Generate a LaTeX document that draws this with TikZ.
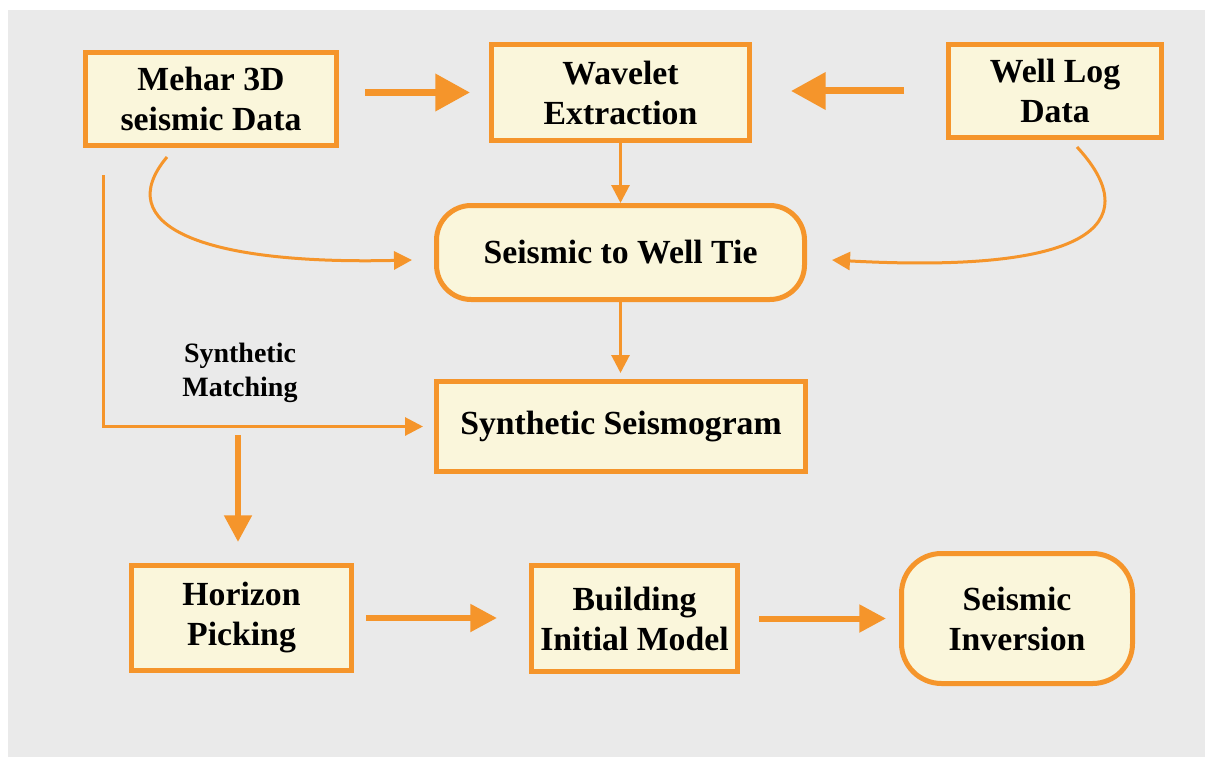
\documentclass[tikz,border=0pt]{standalone}
\usepackage{fontspec}
\setmainfont{Liberation Serif}
\usetikzlibrary{arrows.meta,calc}
\definecolor{org}{HTML}{F5952B}
\definecolor{cream}{HTML}{FAF6DB}
\definecolor{bg}{HTML}{EAEAEA}
\begin{document}
\begin{tikzpicture}[x=0.75pt,y=-0.75pt,
  box/.style={draw=org, fill=cream, line width=3.75pt, align=center, inner sep=0pt,
    font=\bfseries\fontsize{25.3}{30}\selectfont},
  rbox/.style={box, rounded corners=26pt},
  thinarrow/.style={draw=org, line width=2.25pt, -{Triangle[length=13.5pt,width=13.5pt]}},
  bigarrow/.style={draw=org, line width=5.25pt, -{Triangle[length=26pt,width=27pt]}},
  midarrow/.style={draw=org, line width=4.5pt, -{Triangle[length=20pt,width=20pt]}},
  lbl/.style={font=\bfseries\fontsize{21}{25}\selectfont, align=center, inner sep=0pt}
]
\useasboundingbox (0,0) rectangle (1205,756);
\fill[white] (0,0) rectangle (1205,756);
\fill[bg] (8,10) rectangle (1220,770);

% nodes
\node[box, minimum width=188.25pt, minimum height=69.75pt] (mehar) at (211,99) {Mehar 3D\\seismic Data};
\node[box, minimum width=193.5pt, minimum height=72pt] (wav) at (620.5,92.5) {Wavelet\\Extraction};
\node[box, minimum width=159.75pt, minimum height=69.75pt] (well) at (1055,91) {Well Log\\Data};
\node[rbox, minimum width=276pt, minimum height=70.5pt] (tie) at (620.5,252.5) {Seismic to Well Tie};
\node[box, minimum width=276.75pt, minimum height=67.5pt] (syn) at (621,426.5) {Synthetic Seismogram};
\node[box, minimum width=165pt, minimum height=78.75pt] (hor) at (241.5,618) {\raisebox{-3pt}{Horizon}\\\raisebox{-3pt}{Picking}};
\node[box, minimum width=154.5pt, minimum height=79.5pt] (bui) at (634.5,618.5) {Building\\Initial Model};
\node[box, rounded corners=30pt, minimum width=173.25pt, minimum height=97.5pt] (inv) at (1017,618.5) {Seismic\\Inversion};
\node[lbl] (match) at (240,373) {Synthetic\\Matching};

% connectors
\draw[bigarrow, shorten <=19.5pt, shorten >=14.25pt] (mehar.east |- wav.west) -- (wav.west);
\draw[bigarrow, shorten <=31.5pt, shorten >=29.25pt] (well.west) -- (well.west -| wav.east);
\draw[thinarrow] (wav.south) -- (wav.south |- tie.north);
\draw[thinarrow, shorten >=4.5pt] (tie.south) -- (tie.south |- syn.north);
\draw[thinarrow] ([shift={(-44,9)}]mehar.south) .. controls (110,225) and (200,265) .. ([shift={(-22,7.5)}]tie.west);
\draw[thinarrow] ([shift={(22,7)}]well.south) .. controls (1140,215) and (1110,275) .. ([shift={(25,7.5)}]tie.east);
\draw[thinarrow, shorten >=8.25pt] ([shift={(20,27)}]mehar.south west) |- (syn.west);
\draw[midarrow] ([shift={(-3.5,-128)}]hor.north) -- ([shift={(-3.5,-21)}]hor.north);
\draw[midarrow, shorten <=9pt, shorten >=24pt] (hor.east) -- (hor.east -| bui.west);
\draw[midarrow, shorten <=14.25pt, shorten >=9.75pt] (bui.east) -- (bui.east -| inv.west);
\end{tikzpicture}
\end{document}
